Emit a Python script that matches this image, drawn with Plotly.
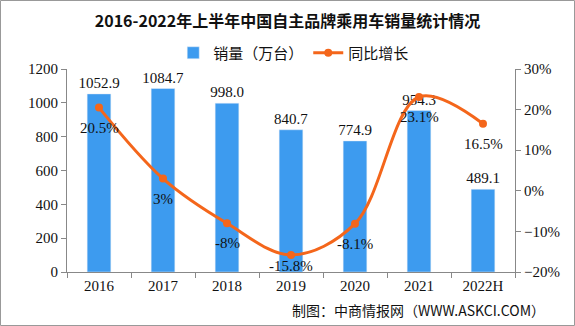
import plotly.graph_objects as go

years = ["2016", "2017", "2018", "2019", "2020", "2021", "2022H"]
sales = [1052.9, 1084.7, 998.0, 840.7, 774.9, 954.3, 489.1]
growth = [20.5, 3, -8, -15.8, -8.1, 23.1, 16.5]
growth_labels = ["20.5%", "3%", "-8%", "-15.8%", "-8.1%", "23.1%", "16.5%"]
sales_labels = [f"{v:.1f}" for v in sales]
label_shift = [-20, -20, -20, -11, -20, -20, -20]

FONT = "Liberation Serif, Noto Sans CJK SC, serif"
CJK = "Noto Sans CJK SC, sans-serif"

fig = go.Figure()
fig.add_trace(go.Bar(
    x=years, y=sales, name="销量（万台）",
    marker=dict(color="#3d9bef"), width=0.37,
    text=sales_labels, textposition="outside", cliponaxis=False,
    constraintext="none",
    textfont=dict(family=FONT, size=15, color="#111"),
))
fig.add_trace(go.Scatter(
    x=years, y=growth, name="同比增长", yaxis="y2",
    mode="lines+markers",
    line=dict(color="#f4661b", width=3, shape="spline", smoothing=1.0),
    marker=dict(color="#f4661b", size=8),
    cliponaxis=False,
))
for i, (yv, t, s) in enumerate(zip(growth, growth_labels, label_shift)):
    fig.add_annotation(x=i, y=yv, xref="x", yref="y2", text=t, showarrow=False,
                       yshift=s, font=dict(family=FONT, size=15, color="#111"))

W, H = 575, 326
ml, mr, mt, mb = 67, 60, 69, 54
pw, ph = W - ml - mr, H - mt - mb

fig.update_layout(
    width=W, height=H,
    margin=dict(l=ml, r=mr, t=mt, b=mb),
    paper_bgcolor="white", plot_bgcolor="white",
    title=dict(text="<b>2016-2022年上半年中国自主品牌乘用车销量统计情况</b>",
               x=0.5, xanchor="center", y=1 - 21 / H, yanchor="middle",
               font=dict(family=CJK, size=16, color="#111")),
    legend=dict(orientation="h", x=(ml + pw / 2) / W, xref="paper", xanchor="center",
                y=1 + (mt - 53) / ph, yanchor="middle",
                font=dict(family=CJK, size=15, color="#111"),
                itemwidth=30, bgcolor="rgba(0,0,0,0)"),
    showlegend=True,
    xaxis=dict(type="category", showline=True, linecolor="#888", ticks="outside",
               tickson="boundaries", ticklen=5, tickcolor="#888", showgrid=False,
               tickfont=dict(family=FONT, size=15, color="#111")),
    yaxis=dict(range=[0, 1200], dtick=200, showline=True, linecolor="#888",
               ticks="outside", ticklen=5, tickcolor="#888", showgrid=False, zeroline=False,
               tickfont=dict(family=FONT, size=15, color="#111")),
    yaxis2=dict(range=[-20, 30], dtick=10, overlaying="y", side="right",
                showline=True, linecolor="#888", ticks="outside", ticklen=5,
                tickcolor="#888", showgrid=False, zeroline=False, ticksuffix="%",
                tickfont=dict(family=FONT, size=15, color="#111")),
    bargap=0.63,
)

fig.add_annotation(text="制图：中商情报网（WWW.ASKCI.COM）", xref="paper", yref="paper",
                   x=(W - 28 - ml) / pw, y=-(310 - mt - ph) / ph, xanchor="right", yanchor="middle",
                   showarrow=False, font=dict(family=CJK, size=14, color="#111"))

fig.add_shape(type="rect", xref="paper", yref="paper",
              x0=-(ml - 0.5) / pw, x1=1 + (mr - 0.5) / pw,
              y0=-(mb - 0.5) / ph, y1=1 + (mt - 0.5) / ph,
              line=dict(color="#999", width=1), layer="below")

fig.write_html("out.html")
